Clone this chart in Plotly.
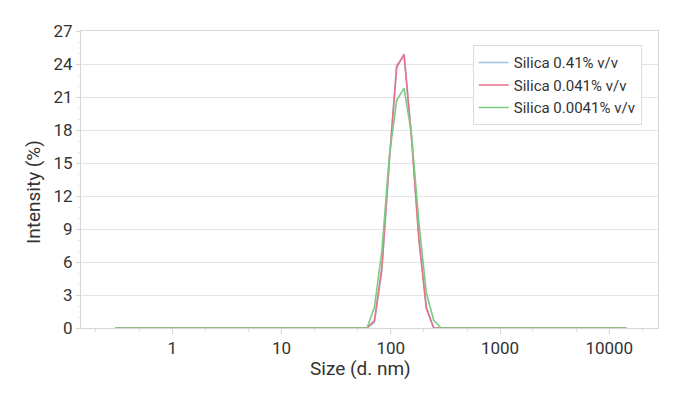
import plotly.graph_objects as go

sizes_nm = [0.3, 0.3507, 0.4100, 0.4793, 0.5603, 0.6550, 0.7657, 0.8951, 1.046, 1.223,
            1.430, 1.672, 1.954, 2.285, 2.671, 3.122, 3.650, 4.267, 4.988, 5.831,
            6.816, 7.968, 9.315, 10.89, 12.73, 14.88, 17.40, 20.34, 23.77, 27.79,
            32.49, 37.98, 44.40, 51.90, 60.67, 70.93, 82.92, 96.93, 113.3, 132.5,
            154.9, 181.0, 211.6, 247.4, 289.2, 338.1, 395.2, 462.0, 540.1, 631.4,
            738.1, 862.8, 1009, 1179, 1378, 1611, 1884, 2202, 2574, 3009,
            3518, 4112, 4807, 5620, 6569, 7680, 8978, 10495, 12269, 14343]

silica_041 = [0, 0, 0, 0, 0, 0, 0, 0, 0, 0,
              0, 0, 0, 0, 0, 0, 0, 0, 0, 0,
              0, 0, 0, 0, 0, 0, 0, 0, 0, 0,
              0, 0, 0, 0, 0, 0.5, 5.2, 15.0, 23.9, 24.7,
              17.5, 8.2, 1.9, 0, 0, 0, 0, 0, 0, 0,
              0, 0, 0, 0, 0, 0, 0, 0, 0, 0,
              0, 0, 0, 0, 0, 0, 0, 0, 0, 0]

silica_0041 = [0, 0, 0, 0, 0, 0, 0, 0, 0, 0,
               0, 0, 0, 0, 0, 0, 0, 0, 0, 0,
               0, 0, 0, 0, 0, 0, 0, 0, 0, 0,
               0, 0, 0, 0, 0, 0.7, 5.5, 15.2, 23.7, 24.9,
               17.2, 8.0, 1.8, 0, 0, 0, 0, 0, 0, 0,
               0, 0, 0, 0, 0, 0, 0, 0, 0, 0,
               0, 0, 0, 0, 0, 0, 0, 0, 0, 0]

silica_00041 = [0, 0, 0, 0, 0, 0, 0, 0, 0, 0,
                0, 0, 0, 0, 0, 0, 0, 0, 0, 0,
                0, 0, 0, 0, 0, 0, 0, 0, 0, 0,
                0, 0, 0, 0, 0, 1.9, 7.0, 15.6, 20.7, 21.8,
                17.6, 9.6, 3.2, 0.7, 0, 0, 0, 0, 0, 0,
                0, 0, 0, 0, 0, 0, 0, 0, 0, 0,
                0, 0, 0, 0, 0, 0, 0, 0, 0, 0]

series_names = ["Silica 0.41% v/v", "Silica 0.041% v/v", "Silica 0.0041% v/v"]
series_values = [silica_041, silica_0041, silica_00041]
series_colors = ["#9cc3e4", "#e8708c", "#7ccc80"]

y_ticks = [0, 3, 6, 9, 12, 15, 18, 21, 24, 27]
x_ticks = [1, 10, 100, 1000, 10000]
x_title = "Size (d. nm)"
y_title = "Intensity (%)"

fig = go.Figure()
for name, vals, col in zip(series_names, series_values, series_colors):
    fig.add_trace(go.Scatter(x=sizes_nm, y=vals, mode="lines", name=name,
                             line=dict(color=col, width=1.6)))

font_family = "Roboto, Arial, sans-serif"
fig.update_layout(
    width=687, height=398,
    margin=dict(l=73, r=37, t=23, b=78, autoexpand=False),
    paper_bgcolor="white", plot_bgcolor="white",
    font=dict(family=font_family, size=17, color="#333333"),
    showlegend=True,
    legend=dict(x=0.679, y=0.952, xanchor="left", yanchor="top",
                bordercolor="#dcdcdc", borderwidth=1, bgcolor="white",
                font=dict(size=15, color="#333333"), tracegroupgap=0,
                itemwidth=30),
    xaxis=dict(type="log", range=[-0.835, 4.446],
               tickvals=x_ticks, ticktext=[str(v) for v in x_ticks],
               showgrid=False, zeroline=False, automargin=False,
               showline=True, linecolor="#d6d6d6", linewidth=1, mirror=True,
               ticks="outside", ticklen=5, tickcolor="#d6d6d6",
               minor=dict(ticks="outside", ticklen=3, tickcolor="#e2e2e2",
                          showgrid=False),
               tickfont=dict(size=17)),
    yaxis=dict(range=[0, 27], tickvals=y_ticks,
               showgrid=True, gridcolor="#e4e4e4", gridwidth=1, zeroline=False,
               automargin=False,
               showline=True, linecolor="#d6d6d6", linewidth=1, mirror=True,
               ticks="outside", ticklen=4, tickcolor="#d6d6d6",
               minor=dict(dtick=1, ticks="outside", ticklen=2, tickcolor="#e8e8e8",
                          showgrid=False),
               tickfont=dict(size=17)),
    annotations=[
        dict(text=x_title, xref="paper", yref="paper", x=0.4844, y=-0.137,
             xanchor="center", yanchor="middle", showarrow=False,
             font=dict(size=19, color="#333333")),
        dict(text=y_title, xref="paper", yref="paper", x=-0.0815, y=0.458,
             xanchor="center", yanchor="middle", showarrow=False, textangle=-90,
             font=dict(size=19, color="#333333")),
    ],
)

fig.write_html("out.html")
